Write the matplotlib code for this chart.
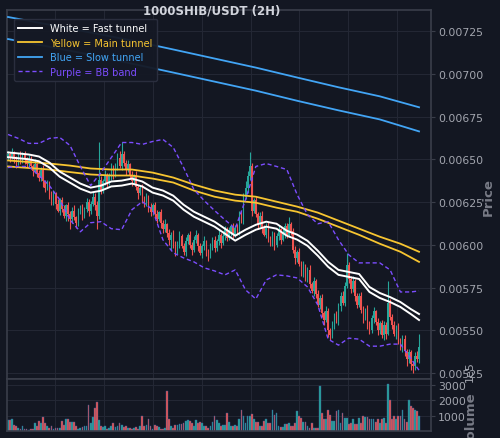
import numpy as np
import matplotlib
matplotlib.use("Agg")
import matplotlib.pyplot as plt
from matplotlib.ticker import FixedLocator, FuncFormatter

# prices are stored in units of 1e-6 USDT
closes = [
    6530, 6510, 6540, 6500, 6480, 6520, 6490, 6530, 6500, 6470, 6500,
    6460, 6430, 6470, 6420, 6390, 6440,
    6370, 6330, 6360, 6290, 6250, 6300,
    6240, 6200, 6260, 6210, 6170, 6230, 6180, 6150,
    6200, 6160, 6130, 6190, 6220,
    6170, 6210, 6250, 6200, 6240, 6280, 6230, 6170, 6380,
    6320, 6370, 6410, 6360, 6400, 6450, 6410, 6460, 6510, 6460, 6530,
    6480, 6440, 6470, 6410, 6370, 6400, 6340,
    6300, 6330, 6270, 6240, 6280, 6220, 6190, 6230,
    6180, 6150, 6190, 6130, 6090, 6120, 6070, 6030, 6060, 6000,
    5960, 6010, 6050, 5990, 5960, 6020, 6060, 6000, 5970, 6030,
    6060, 5990, 5950, 5990, 6020, 5950, 5930, 5990, 6030, 5980,
    6020, 6060, 6010, 6050, 6090, 6040, 6080, 6110, 6060, 6100,
    6080, 6170, 6140, 6280, 6330, 6400, 6460, 6200,
    6260, 6180, 6120, 6170, 6100, 6060, 6110, 6040, 6010, 6060,
    6000, 6050, 6090, 6030, 6070, 6110, 6060, 6120, 6080,
    5970, 5920, 5960, 5890, 5840, 5880, 5800, 5850, 5770,
    5730, 5790, 5710, 5650, 5690, 5600, 5560, 5610, 5500, 5470,
    5530, 5580, 5550, 5640, 5700, 5660, 5760, 5880, 5800,
    5740, 5790, 5700, 5650, 5700, 5620, 5570, 5620, 5540, 5500,
    5570, 5610, 5550, 5500, 5540, 5470,
    5530, 5480, 5660, 5580, 5530,
    5480, 5520, 5440, 5400, 5450, 5380, 5330,
    5370, 5300, 5290, 5350, 5330, 5400,
]
first_open = 6510

wick_up = [
    20, 15, 25, 10, 20, 15, 30, 10, 20, 15,
    25, 20, 15, 30, 10, 20, 15, 25, 10, 20,
    15, 25, 20, 10, 30, 15, 20, 25, 10, 20,
    15, 20, 30, 10, 25, 15, 20, 10, 25, 20,
    15, 30, 20, 25, 220, 20, 15, 25, 10, 20,
    30, 15, 20, 25, 40, 70, 20, 15, 25, 10,
    20, 15, 30, 10, 20, 25, 15, 20, 10, 25,
    15, 20, 25, 10, 20, 15, 30, 10, 20, 15,
    25, 20, 10, 30, 15, 20, 25, 10, 20, 15,
    20, 25, 10, 20, 15, 30, 10, 25, 20, 15,
    20, 15, 25, 10, 30, 20, 15, 25, 10, 20,
    15, 20, 30, 25, 20, 40, 30, 80, 20, 15,
    25, 10, 20, 30, 15, 20, 25, 10, 20, 15,
    20, 25, 10, 30, 15, 20, 40, 15, 20, 25,
    10, 20, 15, 25, 10, 20, 30, 15, 20, 10,
    25, 15, 20, 10, 30, 20, 15, 25, 20, 30,
    20, 25, 30, 20, 70, 20, 15, 25, 10, 20,
    15, 25, 20, 10, 30, 15, 20, 25, 10, 20,
    15, 20, 25, 20, 130, 20, 15, 25, 10, 20,
    15, 20, 25, 10, 20, 15, 20, 25, 30, 80,
]
wick_dn = [
    15, 25, 10, 20, 30, 15, 20, 10, 25, 15,
    20, 15, 30, 10, 25, 20, 15, 30, 20, 10,
    25, 15, 20, 30, 10, 25, 20, 15, 30, 40,
    60, 25, 15, 30, 20, 10, 25, 15, 20, 30,
    20, 15, 25, 80, 20, 25, 15, 20, 30, 10,
    20, 25, 15, 20, 10, 25, 20, 30, 15, 20,
    25, 15, 20, 30, 10, 25, 20, 15, 30, 20,
    15, 25, 20, 10, 30, 20, 15, 25, 30, 60,
    20, 25, 15, 30, 10, 20, 25, 15, 20, 30,
    15, 20, 25, 10, 30, 20, 15, 25, 10, 20,
    25, 15, 20, 30, 10, 25, 20, 15, 30, 20,
    15, 20, 25, 15, 20, 10, 25, 20, 30, 15,
    20, 25, 15, 30, 10, 20, 25, 15, 20, 30,
    15, 20, 25, 10, 30, 20, 15, 25, 20, 30,
    20, 15, 25, 30, 10, 20, 25, 15, 30, 20,
    15, 25, 20, 30, 10, 40, 25, 15, 20, 10,
    20, 25, 15, 20, 10, 25, 20, 15, 30, 20,
    15, 20, 25, 10, 30, 20, 15, 25, 20, 30,
    20, 15, 25, 30, 10, 20, 25, 15, 30, 20,
    15, 25, 30, 40, 20, 30, 40, 20, 15, 20,
]

volumes = [
    700, 720, 750, 400, 300, 200, 150, 300, 100, 100,
    80, 100, 150, 520, 350, 650, 500, 900, 500, 300,
    200, 300, 100, 200, 200, 200, 650, 400, 800, 750,
    600, 600, 600, 300, 100, 200, 250, 300, 300, 1700,
    500, 900, 1500, 1870, 700, 300, 250, 300, 150, 200,
    300, 550, 250, 350, 550, 400, 250, 300, 200, 200,
    150, 200, 250, 150, 300, 950, 350, 400, 800, 300,
    100, 400, 350, 250, 100, 150, 200, 2600, 800, 300,
    200, 400, 400, 450, 450, 500, 650, 700, 650, 550,
    300, 700, 500, 600, 550, 350, 300, 200, 350, 600,
    1000, 700, 500, 300, 400, 400, 1150, 600, 300, 300,
    400, 300, 750, 1350, 950, 550, 950, 950, 1100, 750,
    600, 600, 350, 350, 650, 750, 550, 550, 1350, 1050,
    1200, 300, 250, 250, 450, 450, 550, 350, 350, 550,
    1300, 950, 850, 600, 600, 350, 200, 500, 200, 200,
    200, 2950, 1150, 800, 800, 1350, 1050, 650, 650, 1300,
    1350, 550, 1200, 850, 850, 450, 550, 800, 450, 450,
    850, 550, 950, 900, 900, 800, 800, 800, 600, 800,
    550, 750, 850, 550, 3050, 2050, 750, 950, 750, 950,
    950, 1400, 800, 600, 2000, 1650, 1500, 1400, 1300, 1000,
]

# indicator lines, read at sample candles
fast_idx = list(range(0, 200, 5)) + [199]
fast_hi = [6540, 6534, 6528, 6516, 6481, 6428, 6393, 6358, 6334, 6346,
           6370, 6375, 6387, 6370, 6334, 6317, 6287, 6234, 6193, 6164,
           6135, 6094, 6053, 6088, 6117, 6135, 6123, 6082, 6059, 6023,
           5965, 5900, 5853, 5841, 5829, 5753, 5718, 5694, 5665, 5624, 5595]
fast_lo = [6512, 6506, 6500, 6488, 6452, 6398, 6363, 6328, 6305, 6316,
           6341, 6346, 6358, 6341, 6305, 6288, 6258, 6205, 6164, 6135,
           6106, 6065, 6024, 6058, 6088, 6106, 6094, 6053, 6030, 5994,
           5936, 5871, 5824, 5812, 5800, 5724, 5689, 5665, 5636, 5595, 5560]

main_idx = list(range(0, 200, 10)) + [199]
main_hi = [6493, 6484, 6475, 6463, 6446, 6440, 6440, 6422, 6393, 6352, 6317,
           6293, 6281, 6252, 6223, 6188, 6141, 6094, 6047, 6006, 5959]
main_lo = [6458, 6449, 6440, 6425, 6411, 6405, 6405, 6387, 6364, 6317, 6281,
           6258, 6246, 6217, 6193, 6152, 6105, 6058, 6006, 5959, 5900]

slow_idx = list(range(0, 200, 20)) + [199]
slow_hi = [7332, 7287, 7241, 7194, 7142, 7089, 7036, 6978, 6921, 6868, 6804]
slow_lo = [7203, 7158, 7111, 7059, 7007, 6954, 6901, 6842, 6786, 6733, 6663]

bb_idx = fast_idx
bb_up = [6645, 6622, 6593, 6593, 6622, 6628, 6581, 6458, 6346, 6422,
         6510, 6598, 6598, 6587, 6604, 6616, 6569, 6452, 6323, 6258,
         6200, 6146, 6094, 6264, 6458, 6475, 6458, 6440, 6293, 6176,
         6123, 6135, 6029, 5941, 5894, 5894, 5894, 5853, 5724, 5724, 5730]
bb_dn = [6452, 6458, 6458, 6405, 6346, 6264, 6146, 6076, 6129, 6135,
         6094, 6088, 6205, 6252, 6205, 6029, 5953, 5923, 5900, 5865,
         5847, 5824, 5853, 5736, 5683, 5794, 5824, 5818, 5806, 5753,
         5648, 5448, 5413, 5454, 5448, 5407, 5407, 5419, 5419, 5336, 5266]

BG = "#131722"
GRID = "#242835"
SPINE = "#3a3e4a"
TXT = "#a3a6af"
UP = "#26a69a"
DOWN = "#ef5350"

scale = 1e-6
c = np.array(closes) * scale
o = np.concatenate([[first_open * scale], c[:-1]])
hi = np.maximum(o, c) + np.array(wick_up) * scale
lo = np.minimum(o, c) - np.array(wick_dn) * scale
x = np.arange(len(c))
col = np.where(c >= o, UP, DOWN)

fig = plt.figure(figsize=(5.0, 4.39), dpi=100, facecolor=BG)
ax = fig.add_axes([0.014, 0.1344, 0.848, 0.8406])
axv = fig.add_axes([0.014, 0.016, 0.848, 0.1184], sharex=ax)

for a in (ax, axv):
    a.set_facecolor(BG)
    for s in a.spines.values():
        s.set_color(SPINE)
        s.set_linewidth(1.2)
    a.yaxis.tick_right()
    a.tick_params(axis="y", colors=SPINE, labelcolor=TXT, labelsize=7.8,
                  length=3, width=0.8, pad=2)
    a.tick_params(axis="x", length=0, labelbottom=False)
    a.grid(True, color=GRID, linewidth=0.7)
    a.set_axisbelow(True)

# candles
ax.vlines(x, lo, hi, colors=col, linewidth=0.8, zorder=2)
body = np.maximum(np.abs(c - o), 5e-6)
ax.bar(x, body, bottom=np.minimum(o, c), width=0.72, color=col,
       linewidth=0, zorder=3)

# tunnels and bands
ax.plot(slow_idx, np.array(slow_hi) * scale, color="#42a5f5", lw=1.3, zorder=4,
        label="Blue = Slow tunnel")
ax.plot(slow_idx, np.array(slow_lo) * scale, color="#42a5f5", lw=1.3, zorder=4)
ax.plot(main_idx, np.array(main_hi) * scale, color="#f7c531", lw=1.3, zorder=4,
        label="Yellow = Main tunnel")
ax.plot(main_idx, np.array(main_lo) * scale, color="#f7c531", lw=1.3, zorder=4)
ax.plot(fast_idx, np.array(fast_hi) * scale, color="white", lw=1.4, zorder=5,
        label="White = Fast tunnel")
ax.plot(fast_idx, np.array(fast_lo) * scale, color="white", lw=1.4, zorder=5)
ax.plot(bb_idx, np.array(bb_up) * scale, color="#7c4dff", lw=1.0, ls=(0, (3, 2)),
        zorder=4, label="Purple = BB band")
ax.plot(bb_idx, np.array(bb_dn) * scale, color="#7c4dff", lw=1.0, ls=(0, (3, 2)),
        zorder=4)

ax.set_xlim(-0.5, 204.8)
ax.set_ylim(0.005215, 0.007373)
ax.yaxis.set_major_locator(FixedLocator(np.arange(0.00525, 0.00726, 0.00025)))
ax.yaxis.set_major_formatter(FuncFormatter(lambda v, p: f"{v:.5f}"))
ax.xaxis.set_major_locator(FixedLocator(np.linspace(22.8, 188.4, 8)))

handles, labels = ax.get_legend_handles_labels()
order = [2, 1, 0, 3]
leg = ax.legend([handles[i] for i in order], [labels[i] for i in order],
                loc="upper left", bbox_to_anchor=(0.004, 0.99), fontsize=7,
                facecolor="#151925", edgecolor="#2c3040", framealpha=0.95,
                handlelength=2.4, borderpad=0.5, labelspacing=0.45)
for t, clr in zip(leg.get_texts(), ["white", "#f7c531", "#42a5f5", "#7c4dff"]):
    t.set_color(clr)
leg.set_zorder(10)

# volume
axv.bar(x, volumes, width=0.85, color=col, edgecolor="#3b5f9a",
        linewidth=0.3)
axv.set_ylim(0, 3390)
axv.yaxis.set_major_locator(FixedLocator([1000, 2000, 3000]))

fig.text(212 / 500, 1 - 11 / 439, "1000SHIB/USDT (2H)", ha="center", va="center",
         color="#d1d4dc", fontsize=8.5, fontweight="bold")
fig.text(488 / 500, 1 - 197 / 439, "Price", rotation=90, ha="center", va="center",
         color="#787b86", fontsize=9.5, fontweight="bold")
fig.text(471 / 500, 1 - 420 / 439, "Volume", rotation=90, ha="center", va="center",
         color="#787b86", fontsize=9.5, fontweight="bold")
fig.text(470 / 500, 1 - 372 / 439, "1e5", rotation=90, ha="center", va="center",
         color=TXT, fontsize=8)

fig.savefig("out.png", dpi=100, facecolor=BG)
